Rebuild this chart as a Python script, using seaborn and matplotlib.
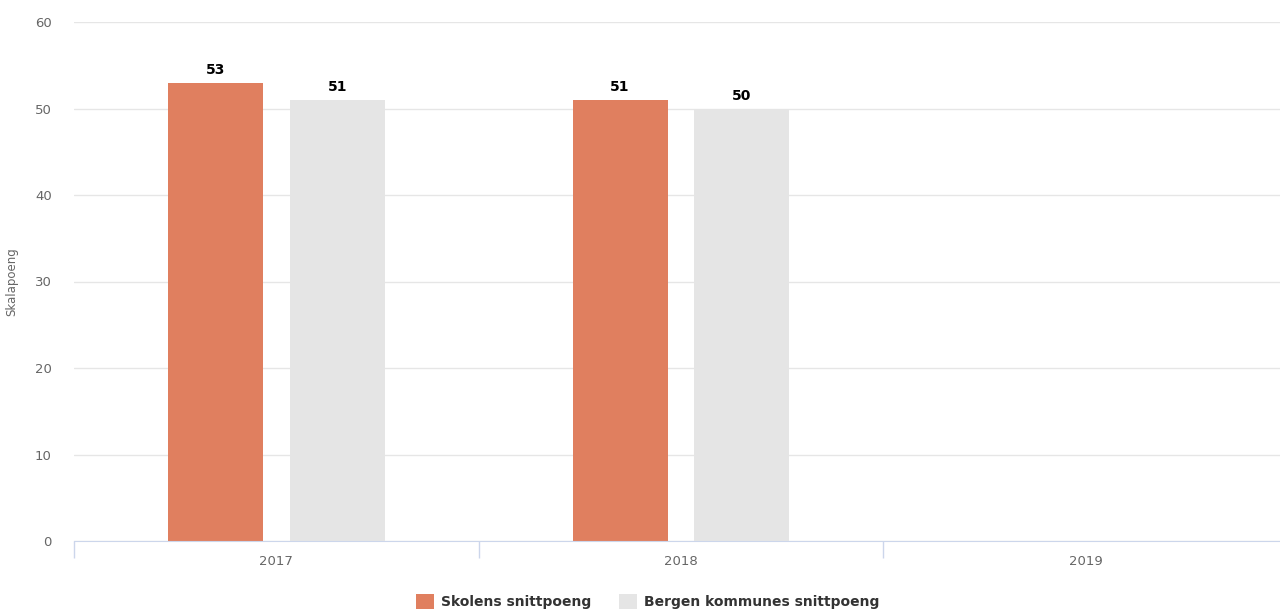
import matplotlib
matplotlib.use("Agg")
import matplotlib.pyplot as plt
import seaborn as sns
import numpy as np
import pandas as pd

# Data
years = ["2017", "2018", "2019"]
series_names = ["Skolens snittpoeng", "Bergen kommunes snittpoeng"]
skolen = [53, 51, np.nan]
bergen = [51, 50, np.nan]
colors = ["#E07F5F", "#E5E5E5"]

df = pd.DataFrame({
    "year": years * 2,
    "series": [series_names[0]] * 3 + [series_names[1]] * 3,
    "value": skolen + bergen,
})

sns.set_style("white")
plt.rcParams["font.family"] = ["DejaVu Sans"]

fig = plt.figure(figsize=(12.8, 6.12), dpi=100)
# plot area runs a little past the right edge, like the original
ax = fig.add_axes([74 / 1280, 1 - 541 / 612, (1288 - 74) / 1280, (541 - 22) / 612])

sns.barplot(
    data=df, x="year", y="value", hue="series", order=years,
    hue_order=series_names, palette=colors, width=0.602, gap=0.22,
    saturation=1, linewidth=0, ax=ax, legend=True,
)

# data labels
for cont in ax.containers:
    labels = ["" if np.isnan(v) else f"{v:.0f}" for v in cont.datavalues]
    ax.bar_label(cont, labels=labels, padding=4, fontsize=10,
                 fontweight="bold", color="#000000")

ax.set_ylim(0, 60)
ax.set_xlim(-0.5, 2.5)
ax.set_yticks(range(0, 61, 10))
ax.yaxis.grid(True, color="#E6E6E6", linewidth=1)
ax.set_axisbelow(True)
for s in ["top", "right", "left"]:
    ax.spines[s].set_visible(False)
ax.spines["bottom"].set_color("#CCD6EB")
ax.tick_params(axis="y", length=0, labelsize=9.5, labelcolor="#666666", pad=16)
ax.tick_params(axis="x", which="major", length=0, labelsize=9.5,
               labelcolor="#666666", pad=10)
ax.set_xticks([-0.5, 0.5, 1.5, 2.5], minor=True)
ax.tick_params(axis="x", which="minor", bottom=True, length=12,
               color="#CCD6EB", width=1)
ax.set_xlabel("")
ax.set_ylabel("Skalapoeng", fontsize=8.5, color="#666666")
ax.yaxis.set_label_coords((18 - 74) / 1214, 0.5)

handles, labels = ax.get_legend_handles_labels()
ax.get_legend().remove()
fig.legend(handles, labels, loc="lower center", bbox_to_anchor=(0.506, -0.016),
           ncol=2, frameon=False, handlelength=1.3, handleheight=1.3,
           handletextpad=0.5, columnspacing=2.0,
           prop={"size": 10, "weight": "bold"}, labelcolor="#333333")

fig.savefig("out.png", dpi=100)
plt.close(fig)
